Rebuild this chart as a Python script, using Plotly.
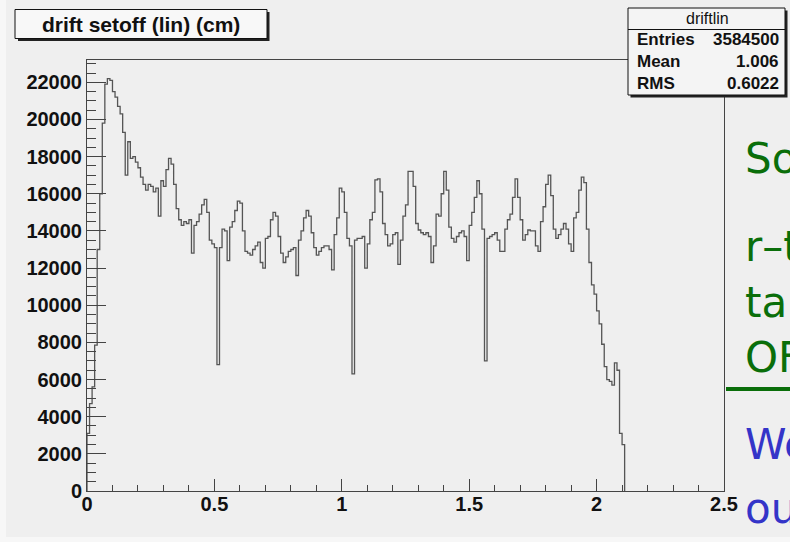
import numpy as np
import plotly.graph_objects as go

# ---------------- data ----------------
hist_name = "driftlin"
hist_title = "drift setoff (lin) (cm)"
bin_low = 0.0
bin_width = 0.01
counts = [
    3100, 4700, 5600, 7850, 13000, 16000, 19800, 21900, 22200, 22100,
    21500, 21200, 20700, 20300, 19300, 17000, 18800, 17900, 18000, 17700,
    17400, 16900, 16500, 16200, 16500, 16400, 16100, 16300, 14800, 16700,
    16400, 17300, 17900, 17600, 16500, 15200, 14600, 14300, 14500, 14400,
    14600, 12800, 14300, 14500, 14900, 15400, 15700, 15000, 13500, 13300,
    13100, 6800, 13100, 14100, 14000, 12400, 14200, 14500, 15100, 15600,
    15500, 14000, 12900, 12800, 12700, 13000, 13200, 13400, 12300, 12000,
    13600, 13700, 14600, 15000, 14800, 13700, 12800, 12300, 12600, 12900,
    13000, 13100, 11600, 13500, 14000, 14700, 15100, 14800, 13900, 13100,
    12700, 12900, 13100, 13200, 13200, 13000, 11900, 13800, 14700, 16300,
    16100, 15000, 13600, 13200, 6300, 13500, 13600, 13600, 13700, 12000,
    13300, 14600, 15000, 16750, 16800, 16100, 14400, 13800, 13200, 13300,
    13800, 13900, 12200, 13500, 14800, 15400, 17200, 17200, 16400, 14400,
    14050, 13900, 13800, 13900, 13700, 12300, 13200, 14900, 14800, 16000,
    17200, 16200, 14200, 13600, 13400, 13700, 13900, 14000, 13700, 12400,
    14300, 15000, 15800, 16700, 16000, 14100, 7000, 13600, 13700, 13800,
    13900, 13500, 12900, 12900, 14100, 14600, 14900, 15800, 16800, 15800,
    14600, 13500, 13800, 14050, 14000, 14000, 13200, 12900, 14500, 15300,
    16500, 17000, 15900, 14100, 13600, 13800, 14100, 14400, 14100, 13300,
    12900, 14700, 15000, 16200, 16900, 16600, 14100, 12300, 11100, 10600,
    9700, 9000, 7900, 6700, 6000, 5900, 5700, 6900, 6500, 3100,
    2500,
]
stat_labels = ["Entries", "Mean", "RMS"]
stat_values = ["3584500", "1.006", "0.6022"]
x_range = [0, 2.5]
y_range = [0, 23200]

slide_green = ["So", "r\u2013t", "tak", "OF"]
slide_blue = ["We", "out", "f"]

# ---------------- geometry helpers ----------------
W, H = 790, 542
L, R, T, B = 87, 66, 60, 51
PW, PH = W - L - R, H - T - B


def px(xp):
    return (xp - L) / PW


def py(yp):
    return 1 - (yp - T) / PH


# step outline (ROOT style)
edges = bin_low + bin_width * np.arange(len(counts) + 1)
xs = np.concatenate([[edges[0]], edges[:-1], [edges[-1]]])
ys = np.concatenate([[0], counts, [0]])

fig = go.Figure()
fig.add_trace(go.Scatter(
    x=xs, y=ys, mode="lines", line=dict(color="#555555", width=1.3, shape="hv"),
    hoverinfo="skip", showlegend=False,
))

bg = "#efefef"
tickfont = dict(family="Liberation Sans", size=20, color="#111", weight="bold")

fig.update_layout(
    width=W, height=H,
    margin=dict(l=L, r=R, t=T, b=B),
    paper_bgcolor=bg, plot_bgcolor=bg,
    showlegend=False,
    xaxis=dict(
        range=x_range, showgrid=False, zeroline=False,
        showline=True, linecolor="#444", linewidth=1, mirror=True,
        ticks="inside", ticklen=12, tickcolor="#444", tickwidth=1,
        dtick=0.5, tick0=0, tickfont=tickfont, ticklabelstandoff=-5,
        minor=dict(ticks="inside", ticklen=6, dtick=0.1, tickcolor="#444"),
    ),
    yaxis=dict(
        range=y_range, showgrid=False, zeroline=False,
        showline=True, linecolor="#444", linewidth=1, mirror=True,
        ticks="inside", ticklen=19, tickcolor="#444", tickwidth=1,
        dtick=2000, tick0=0, tickformat="d", tickfont=tickfont,
        minor=dict(ticks="inside", ticklen=9, dtick=500, tickcolor="#444"),
    ),
)

shapes = []
# slide area outside ROOT canvas
shapes.append(dict(type="rect", xref="paper", yref="paper", x0=px(0), x1=px(W),
                   y0=py(537), y1=py(H), fillcolor="#f7f7f7", line=dict(width=0), layer="below"))
shapes.append(dict(type="rect", xref="paper", yref="paper", x0=px(0), x1=px(6),
                   y0=py(0), y1=py(H), fillcolor="#f7f7f7", line=dict(width=0), layer="below"))
# title box with shadow
shapes.append(dict(type="rect", xref="paper", yref="paper", x0=px(18), x1=px(269.5),
                   y0=py(12), y1=py(41), fillcolor="#222", line=dict(width=0)))
shapes.append(dict(type="rect", xref="paper", yref="paper", x0=px(15), x1=px(267),
                   y0=py(9.5), y1=py(38.5), fillcolor="#f8f8f8", line=dict(color="#111", width=1)))
# stats box with shadow
shapes.append(dict(type="rect", xref="paper", yref="paper", x0=px(630.5), x1=px(787.5),
                   y0=py(10.5), y1=py(97.5), fillcolor="#222", line=dict(width=0)))
shapes.append(dict(type="rect", xref="paper", yref="paper", x0=px(628), x1=px(785),
                   y0=py(8), y1=py(95), fillcolor="#f4f4f4", line=dict(color="#111", width=1)))
shapes.append(dict(type="line", xref="paper", yref="paper", x0=px(628), x1=px(785),
                   y0=py(29.5), y1=py(29.5), line=dict(color="#111", width=1)))
# slide green separator line
shapes.append(dict(type="line", xref="paper", yref="paper", x0=px(726), x1=px(792),
                   y0=py(389), y1=py(389), line=dict(color="#0a6e0a", width=4)))
fig.update_layout(shapes=shapes)

ann = []
ann.append(dict(text=hist_title, xref="paper", yref="paper", x=px(141), y=py(25),
                xanchor="center", yanchor="middle", showarrow=False,
                font=dict(family="Liberation Sans", size=21, color="#111", weight="bold")))
ann.append(dict(text=hist_name, xref="paper", yref="paper", x=px(707), y=py(18.5),
                xanchor="center", yanchor="middle", showarrow=False,
                font=dict(family="Liberation Sans", size=16, color="#111")))
row_y = [40, 61.5, 83]
for lab, val, yy in zip(stat_labels, stat_values, row_y):
    ann.append(dict(text=lab, xref="paper", yref="paper", x=px(635), y=py(yy),
                    xanchor="left", yanchor="middle", showarrow=False,
                    font=dict(family="Liberation Sans", size=17, color="#111", weight="bold")))
    ann.append(dict(text=val, xref="paper", yref="paper", x=px(781), y=py(yy),
                    xanchor="right", yanchor="middle", showarrow=False,
                    font=dict(family="Liberation Sans", size=17, color="#111", weight="bold")))

green_y = [158, 246, 302, 357]
for t, yy in zip(slide_green, green_y):
    ann.append(dict(text=t, xref="paper", yref="paper", x=px(743), y=py(yy),
                    xanchor="left", yanchor="middle", showarrow=False,
                    font=dict(family="DejaVu Sans", size=42, color="#0a6e0a")))
blue_y = [444, 508, 562]
for t, yy in zip(slide_blue, blue_y):
    ann.append(dict(text=t, xref="paper", yref="paper", x=px(743), y=py(yy),
                    xanchor="left", yanchor="middle", showarrow=False,
                    font=dict(family="DejaVu Sans", size=42, color="#3434c8")))
fig.update_layout(annotations=ann)

fig.write_html(
    "out.html",
    config={"displayModeBar": False},
    post_script="document.body.style.margin='0';document.body.style.padding='0';",
)
